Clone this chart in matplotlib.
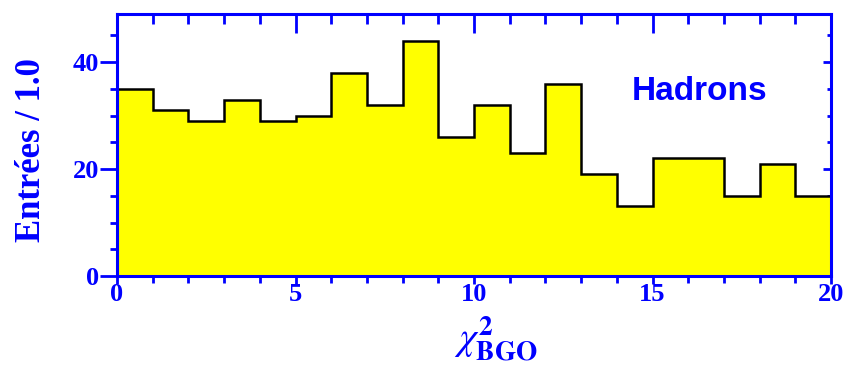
import matplotlib
matplotlib.use("Agg")
import matplotlib.pyplot as plt
import numpy as np

# histogram of chi2_BGO for hadrons, bins of width 1
bin_edges = np.arange(0, 21, 1)
counts = [35, 31, 29, 33, 29, 30, 38, 32, 44, 26,
          32, 23, 36, 19, 13, 22, 22, 15, 21, 15]

blue = (0, 0, 1)
plt.rcParams['mathtext.fontset'] = 'stix'

fig = plt.figure(figsize=(8.45, 3.74), dpi=100)
ax = fig.add_axes([0.1385, 0.262, 0.845, 0.7006])

ax.stairs(counts, bin_edges, fill=True, facecolor='yellow', edgecolor='none')
ax.stairs(counts, bin_edges, color='black', linewidth=1.8)

ax.set_xlim(0, 20)
ax.set_ylim(0, 49)

for s in ax.spines.values():
    s.set_color(blue)
    s.set_linewidth(2.2)
    s.set_zorder(5)

tickfont = dict(family='Liberation Serif', weight='bold', size=19)
ax.set_xticks([0, 5, 10, 15, 20])
ax.set_xticks(np.arange(0, 21, 1), minor=True)
ax.set_yticks([0, 20, 40])
ax.set_yticks(np.arange(0, 50, 5), minor=True)
ax.set_xticklabels(['0', '5', '10', '15', '20'], **tickfont)
ax.set_yticklabels(['0', '20', '40'], **tickfont)

ax.tick_params(axis='x', which='major', direction='out', length=6, width=2,
               color=blue, labelcolor=blue, pad=-1)
ax.tick_params(axis='x', which='minor', direction='out', length=5, width=2, color=blue)
ax.tick_params(axis='y', which='major', direction='out', length=12, width=2,
               color=blue, labelcolor=blue, pad=1)
ax.tick_params(axis='y', which='minor', direction='out', length=5, width=2, color=blue)

# inward ticks on top and right
top = ax.secondary_xaxis('top')
top.set_xticks([0, 5, 10, 15, 20])
top.set_xticks(np.arange(0, 21, 1), minor=True)
top.tick_params(which='major', direction='in', length=14, width=2, color=blue, labeltop=False)
top.tick_params(which='minor', direction='in', length=7, width=2, color=blue)
top.spines['top'].set_visible(False)

right = ax.secondary_yaxis('right')
right.set_yticks([0, 20, 40])
right.set_yticks(np.arange(0, 50, 5), minor=True)
right.tick_params(which='major', direction='in', length=6, width=2, color=blue, labelright=False)
right.tick_params(which='minor', direction='in', length=3, width=2, color=blue)
right.spines['right'].set_visible(False)

ax.set_ylabel('Entrées / 1.0', family='Liberation Serif', weight='bold',
              size=25, color=blue)
ax.yaxis.set_label_coords(-0.096, 0.48)

ax.text(0.53, -0.24, r'$\chi^{\mathbf{2}}_{\mathbf{BGO}}$', transform=ax.transAxes,
        ha='center', va='center', size=28, color=blue)

ax.text(0.8165, 0.705, 'Hadrons', transform=ax.transAxes, ha='center', va='center',
        family='Liberation Sans', weight='bold', size=24, color=blue)

fig.savefig('out.png', dpi=100)
